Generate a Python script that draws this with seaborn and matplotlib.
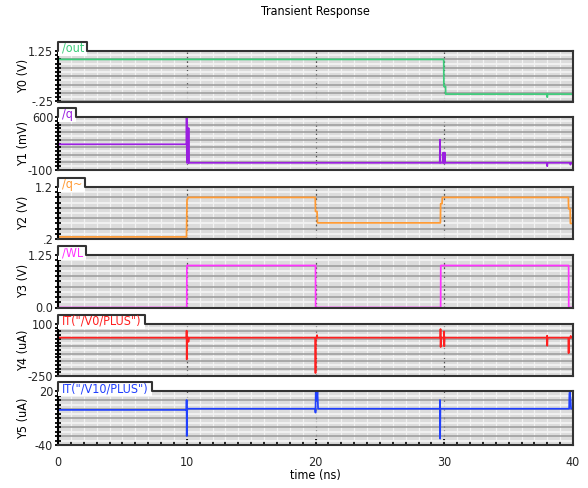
import numpy as np
import pandas as pd
import matplotlib
matplotlib.use("Agg")
import matplotlib.pyplot as plt
import seaborn as sns
from matplotlib import font_manager as fm
from matplotlib.patches import Rectangle
from matplotlib.lines import Line2D
from matplotlib.ticker import MultipleLocator, FixedLocator
from matplotlib.transforms import IdentityTransform

sns.set_theme(style="white")
_names = {f.name for f in fm.fontManager.ttflist}
FONT = 'Liberation Sans Narrow' if 'Liberation Sans Narrow' in _names else 'DejaVu Sans'
STRETCH = 'normal' if FONT == 'Liberation Sans Narrow' else 'condensed'
plt.rcParams['font.family'] = [FONT, 'DejaVu Sans']
plt.rcParams['font.stretch'] = STRETCH

# ---------------- data ----------------
title = "Transient Response"
x_label = "time (ns)"
x_ticks = [0, 10, 20, 30, 40]

signal_names = ["/out", "/q", "/q~", "/WL", 'IT("/V0/PLUS")', 'IT("/V10/PLUS")']
y_labels = ["Y0 (V)", "Y1 (mV)", "Y2 (V)", "Y3 (V)", "Y4 (uA)", "Y5 (uA)"]
y_limits = [(-0.25, 1.25), (-100, 600), (0.2, 1.2), (0.0, 1.25), (-250, 100), (-40, 20)]
y_ticklabels = [("-.25", "1.25"), ("-100", "600"), (".2", "1.2"), ("0.0", "1.25"),
                ("-250", "100"), ("-40", "20")]
y_major_step = [0.25, 100, 0.2, 0.25, 50, 10]
colors = ["#3dcc7a", "#9b1fe0", "#ff9a33", "#ff33ff", "#ff2020", "#2040ff"]

out_t = [0, 29.96, 29.97, 30.1, 30.11, 37.98, 37.99, 38.01, 38.02, 40]
out_v = [1.0, 1.0, 0.2, 0.2, -0.03, -0.03, -0.12, -0.12, -0.03, -0.03]

q_t = [0, 9.98, 9.99, 10.01, 10.13, 10.14, 10.16, 29.65, 29.67, 29.7, 29.9, 29.92, 29.95,
       30.02, 30.04, 30.07, 37.98, 38.0, 38.02, 39.78, 39.8, 39.84, 40]
q_v = [240, 240, 600, -5, -5, 455, -5, -5, 300, -5, -5, 130, -5,
       -5, 130, -5, -5, -50, -5, -5, -30, -5, -5]

qb_t = [0, 9.98, 10.02, 10.1, 19.98, 20.0, 20.12, 20.15, 29.7, 29.72, 29.83, 29.85,
        39.64, 39.66, 39.78, 39.8, 40]
qb_v = [0.24, 0.24, 0.95, 1.0, 1.0, 0.73, 0.73, 0.51, 0.51, 0.88, 0.88, 1.0,
        1.0, 0.78, 0.78, 0.5, 0.5]

wl_t = [0, 10.0, 10.01, 20.0, 20.01, 29.72, 29.73, 39.66, 39.67, 40]
wl_v = [0, 0, 1.0, 1.0, 0, 0, 1.0, 1.0, 0, 0]

i0_t = [0, 9.98, 9.99, 10.0, 10.02, 10.12, 10.13, 10.15, 19.98, 20.0, 20.02, 20.1, 20.12,
        20.14, 29.7, 29.71, 29.72, 29.74, 29.98, 29.99, 30.0, 30.02, 37.98, 37.99, 38.0,
        38.02, 39.64, 39.66, 39.68, 39.8, 39.82, 39.84, 40]
i0_v = [8, 8, 55, -138, 8, 8, -20, 8, 8, -230, 8, 8, 25,
        8, 8, 66, -55, 8, 8, 50, -50, 8, 8, 21, -46,
        8, 8, -96, 8, 8, 20, 8, 8]

i10_t = [0, 9.98, 9.99, 10.0, 10.02, 19.98, 20.0, 20.02, 20.1, 20.15, 20.2, 29.66, 29.67,
         29.68, 29.7, 39.7, 39.72, 39.75, 39.8, 39.85, 40]
i10_v = [-1, -1, 10, -30, 0.3, 0.3, -4, 20, 10, 20, 0.3, 0.3, 10,
         -33, 0.3, 0.3, 16, 20, 12, 0.3, 0.3]

series_t = [out_t, q_t, qb_t, wl_t, i0_t, i10_t]
series_v = [out_v, q_v, qb_v, wl_v, i0_v, i10_v]

# ---------------- layout ----------------
W, H = 588, 488
fig = plt.figure(figsize=(W / 100, H / 100), dpi=100)
fig.patch.set_facecolor("white")
panel_px = [(51, 101.5), (117, 170), (187, 239), (255, 307.5), (324, 376), (391, 445)]
left_px, right_px = 58, 573

axes = []
for k, (top, bot) in enumerate(panel_px):
    rect = [left_px / W, 1 - bot / H, (right_px - left_px) / W, (bot - top) / H]
    ax = fig.add_axes(rect, sharex=axes[0] if axes else None)
    axes.append(ax)

FS = 9
for k, ax in enumerate(axes):
    df = pd.DataFrame({"t": series_t[k], "v": series_v[k]})
    sns.lineplot(data=df, x="t", y="v", ax=ax, color=colors[k], lw=1.25,
                 estimator=None, sort=False, legend=False)
    lo, hi = y_limits[k]
    ax.set_xlim(0, 40)
    ax.set_ylim(lo, hi)
    ax.set_facecolor("#dcdcdc")
    ax.set_axisbelow(True)
    step = y_major_step[k]
    majors = list(np.round(np.arange(lo, hi + step / 2, step), 6))
    ax.yaxis.set_major_locator(FixedLocator(majors))
    labels = [""] * len(majors)
    labels[0], labels[-1] = y_ticklabels[k]
    ax.set_yticklabels(labels, fontsize=FS)
    ax.yaxis.set_minor_locator(MultipleLocator(step / 2))
    ax.xaxis.set_major_locator(FixedLocator(x_ticks))
    ax.xaxis.set_minor_locator(MultipleLocator(1))
    ax.grid(which="major", axis="y", color="#9a9a9a", lw=1.1, ls="-")
    ax.grid(which="minor", axis="y", color="#f3f3f3", lw=1.3, ls="-")
    ax.grid(which="minor", axis="x", color="#f3f3f3", lw=0.9, ls="-")
    ax.grid(which="major", axis="x", color="#555555", lw=0.9, ls=(0, (1.5, 2)))
    ax.tick_params(axis="y", which="major", direction="inout", length=5, width=1.3,
                   color="black", pad=1, left=True, labelsize=FS)
    ax.tick_params(axis="y", which="minor", direction="inout", length=4, width=1.3,
                   color="black", left=True)
    for side in ["top", "right", "bottom"]:
        ax.spines[side].set_color("#333333")
        ax.spines[side].set_linewidth(1.5)
    ax.spines["left"].set_color("black")
    ax.spines["left"].set_linewidth(1.5)
    ax.set_xlabel("")
    ax.set_ylabel(y_labels[k], fontsize=FS, color="black")
    ax.yaxis.set_label_coords(-0.054, 0.5)
    if k < len(axes) - 1:
        ax.tick_params(axis="x", which="both", bottom=False, labelbottom=False)
    else:
        ax.tick_params(axis="x", which="major", direction="in", length=4, width=1.2,
                       color="black", bottom=True, labelbottom=True, labelsize=FS, pad=8)
        ax.tick_params(axis="x", which="minor", direction="in", length=3, width=1.2,
                       color="black", bottom=True)
        ax.set_xticklabels([str(v) for v in x_ticks])

fig.text(315 / W, 1 - 12 / H, title, ha="center", va="center", fontsize=FS, color="black")
fig.text(315 / W, 1 - 476 / H, x_label, ha="center", va="center", fontsize=FS, color="black")

# signal tabs
fig.canvas.draw()
renderer = fig.canvas.get_renderer()
for k, ax in enumerate(axes):
    bb = ax.get_window_extent(renderer)
    ax_top = bb.y1
    ax_left = bb.x0
    txt = fig.text(ax_left + 4, ax_top + 2.5, signal_names[k], transform=IdentityTransform(),
                   ha="left", va="center", fontsize=FS, color=colors[k], zorder=6)
    tb = txt.get_window_extent(renderer)
    x1 = tb.x1 + 3
    y0, y1 = ax_top - 5, ax_top + 9
    fig.patches.append(Rectangle((ax_left, y0), x1 - ax_left, y1 - y0, transform=IdentityTransform(),
                                 facecolor="white", edgecolor="none", zorder=4, figure=fig))
    fig.lines.append(Line2D([ax_left, ax_left, x1, x1], [ax_top, y1, y1, ax_top],
                            transform=IdentityTransform(), color="#333333", lw=1.5,
                            zorder=5, figure=fig))

fig.savefig("out.png", dpi=100)
